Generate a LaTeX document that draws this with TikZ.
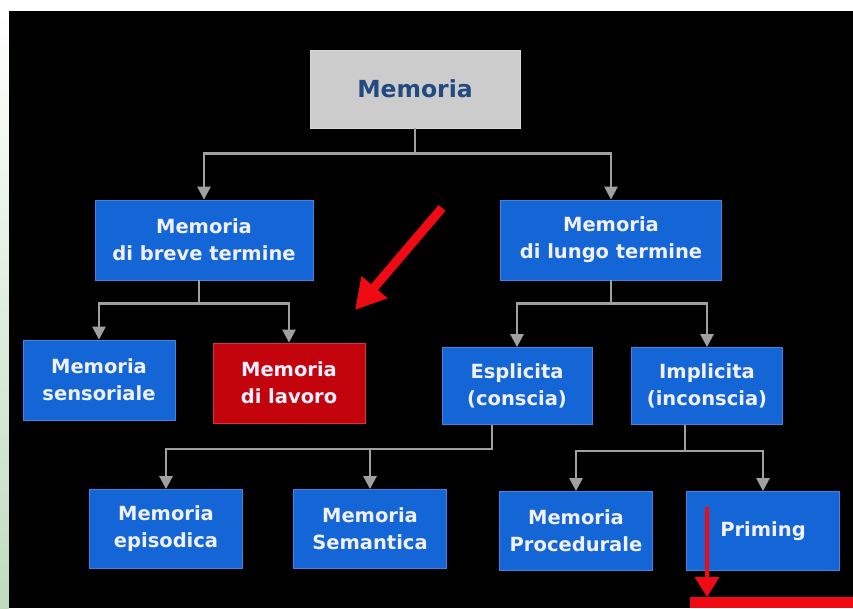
\documentclass[tikz,border=0pt]{standalone}
\usepackage{fontspec}
\newfontfamily\boxfont{DejaVu Sans}
\usepackage{xcolor}
\usetikzlibrary{arrows.meta, positioning, calc}

\definecolor{memblue}{RGB}{20,102,214}
\definecolor{memred}{RGB}{196,4,12}
\definecolor{memgray}{RGB}{204,204,204}
\definecolor{memtext}{RGB}{32,74,128}
\definecolor{linkgray}{RGB}{160,160,160}
\definecolor{hintred}{RGB}{240,10,20}

\tikzset{
  membox/.style={fill=memblue, draw=memblue!80!white, line width=0.8pt,
    text=blue!6!white, align=center, inner sep=0pt,
    minimum width=153pt, minimum height=79pt,
    font=\boxfont\bfseries\fontsize{19.5}{27}\selectfont},
  workbox/.style={membox, fill=memred, draw=memred!80!white},
  rootbox/.style={fill=memgray, draw=gray!30, line width=0.8pt, text=memtext,
    inner sep=0pt, minimum width=210pt, minimum height=78pt,
    font=\boxfont\bfseries\fontsize{23.5}{27}\selectfont},
  conn/.style={draw=linkgray, line width=2.6pt,
    -{Triangle[width=13pt,length=13pt]}},
  hint/.style={draw=hintred, line width=9pt,
    -{Triangle[width=32pt,length=30pt]}},
}

\begin{document}
\begin{tikzpicture}[x=1pt,y=-1pt]
  \useasboundingbox (0,0) rectangle (853,608);
  \fill[white] (0,0) rectangle (853,608);
  \shade[top color=white, bottom color=green!45!black!25] (0,10) rectangle (9,608);
  \fill[black] (9,11) rectangle (853,608);

  % nodes
  \node[rootbox] (mem) at (415,89) {Memoria};

  \node[membox, minimum width=218pt, minimum height=80pt] (breve) at (204,240)
    {Memoria\\di breve termine};
  \node[membox, minimum width=221pt, minimum height=80pt] (lungo) at (611,240)
    {Memoria\\di lungo termine};

  \node[membox, minimum width=152pt, minimum height=80pt] (sens) at (99,380)
    {Memoria\\sensoriale};
  \node[workbox, minimum width=152pt, minimum height=80pt] (lavoro) at (289,383)
    {Memoria\\di lavoro};
  \node[membox, minimum width=150pt, minimum height=77pt] (espl) at (517,386)
    {Esplicita\\(conscia)};
  \node[membox, minimum width=151pt, minimum height=77pt] (impl) at (707,386)
    {Implicita\\(inconscia)};

  \node[membox] (episod) at (166,529) {Memoria\\episodica};
  \node[membox] (seman) at (370,529) {Memoria\\Semantica};
  \node[membox] (proced) at (576,531) {Memoria\\Procedurale};
  \node[membox] (priming) at (763,531) {Priming};

  % connectors
  \draw[conn] (mem.south) -- ++(0,25) -| (breve.north);
  \draw[conn] (mem.south) -- ++(0,25) -| (lungo.north);
  \draw[conn] ([xshift=-5pt]breve.south) -- ++(0,23) -| (sens.north);
  \draw[conn] ([xshift=-5pt]breve.south) -- ++(0,23) -| (lavoro.north);
  \draw[conn] (lungo.south) -- ++(0,23) -| (espl.north);
  \draw[conn] (lungo.south) -- ++(0,23) -| (impl.north);
  \draw[conn] ([xshift=-25pt]espl.south) -- ++(0,24) -| (episod.north);
  \draw[conn] ([xshift=-25pt]espl.south) -- ++(0,24) -| (seman.north);
  \draw[conn] ([xshift=-22pt]impl.south) -- ++(0,26) -| (proced.north);
  \draw[conn] ([xshift=-22pt]impl.south) -- ++(0,26) -| (priming.north);

  % red hints
  \coordinate (hintfrom) at (442,208);
  \coordinate (hintto) at (355,310);
  \draw[hint] (hintfrom) -- (hintto);
  \fill[hintred] (690,597) rectangle (853,608);
  \coordinate (primfrom) at (707,507);
  \coordinate (primto) at (707,597);
  \draw[hint, line width=4pt, -{Triangle[width=24pt,length=20pt]}] (primfrom) -- (primto);
\end{tikzpicture}
\end{document}
